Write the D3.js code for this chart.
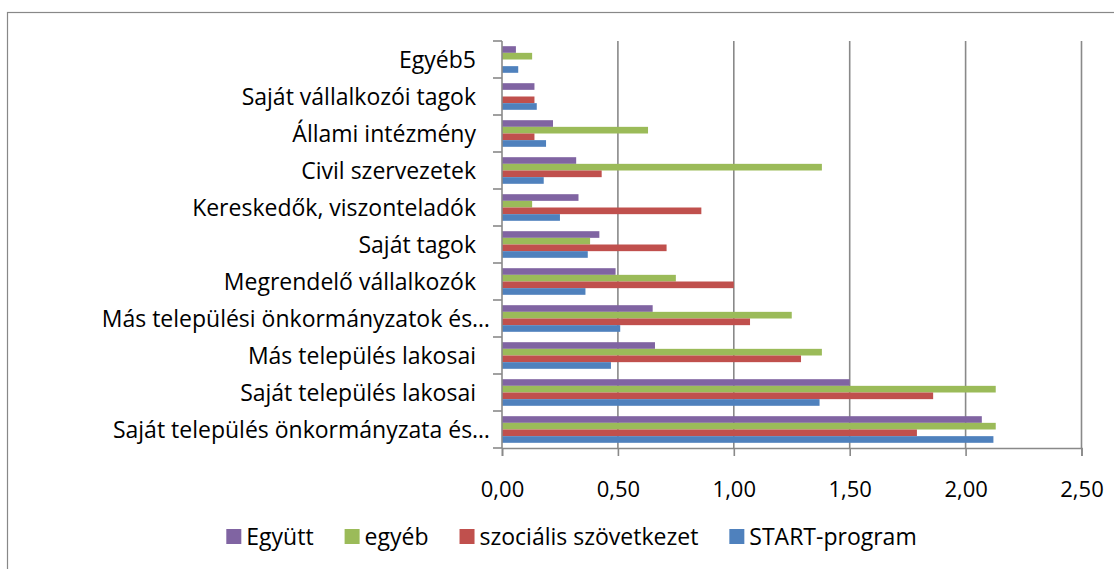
<!DOCTYPE html>
<html>
<head>
<meta charset="utf-8">
<script src="https://cdn.jsdelivr.net/npm/d3@7"></script>
<style>
  body { margin: 0; background: #fff; }
  svg { display: block; font-family: "Open Sans", Lato, sans-serif; }
</style>
</head>
<body>
<svg id="chart" width="1114" height="569"></svg>
<script>
// categories, top to bottom as shown
const categories = [
    "Egyéb5",
    "Saját vállalkozói tagok",
    "Állami intézmény",
    "Civil szervezetek",
    "Kereskedők, viszonteladók",
    "Saját tagok",
    "Megrendelő vállalkozók",
    "Más települési önkormányzatok és…",
    "Más település lakosai",
    "Saját település lakosai",
    "Saját település önkormányzata és…"
];

const seriesNames = ["Együtt", "egyéb", "szociális szövetkezet", "START-program"];
const seriesColors = ["#8064A2", "#9BBB59", "#C0504D", "#4F81BD"];

const egyutt = [0.06, 0.14, 0.22, 0.32, 0.33, 0.42, 0.49, 0.65, 0.66, 1.50, 2.07];
const egyeb = [0.13, 0, 0.63, 1.38, 0.13, 0.38, 0.75, 1.25, 1.38, 2.13, 2.13];
const szocialis = [0, 0.14, 0.14, 0.43, 0.86, 0.71, 1.00, 1.07, 1.29, 1.86, 1.79];
const startProgram = [0.07, 0.15, 0.19, 0.18, 0.25, 0.37, 0.36, 0.51, 0.47, 1.37, 2.12];

const xTicks = [0, 0.5, 1, 1.5, 2, 2.5];

const seriesValues = [egyutt, egyeb, szocialis, startProgram];

// layout
const plot = { left: 502, right: 1081.5, top: 41, bottom: 448 };
const gridColor = "#898989";
const labelSize = 23;

const svg = d3.select('#chart');

// outer chart border (runs off the right/bottom edge)
svg.append('rect')
    .attr('x', 7.5).attr('y', 12.5)
    .attr('width', 1200).attr('height', 700)
    .attr('fill', 'none')
    .attr('stroke', '#888')
    .attr('stroke-width', 1.2);

const x = d3.scaleLinear().domain([0, 2.5]).range([plot.left, plot.right]);
const y0 = d3.scaleBand().domain(categories).range([plot.top, plot.bottom]);
const y1 = d3.scaleBand().domain(seriesNames).range([0, y0.bandwidth()]).paddingOuter(0.78);

// vertical gridlines
svg.append('g')
    .selectAll('line')
    .data(xTicks.slice(1))
    .join('line')
    .attr('x1', d => x(d)).attr('x2', d => x(d))
    .attr('y1', plot.top).attr('y2', plot.bottom)
    .attr('stroke', gridColor)
    .attr('stroke-width', 1.6);

// bars
const rows = categories.map((c, i) => ({
    cat: c,
    vals: seriesNames.map((s, j) => ({ series: s, color: seriesColors[j], value: seriesValues[j][i] }))
}));

svg.append('g')
    .selectAll('g')
    .data(rows)
    .join('g')
    .attr('transform', d => `translate(0,${y0(d.cat)})`)
    .selectAll('rect')
    .data(d => d.vals.filter(v => v.value > 0))
    .join('rect')
    .attr('x', x(0))
    .attr('y', d => y1(d.series))
    .attr('width', d => x(d.value) - x(0))
    .attr('height', y1.bandwidth())
    .attr('fill', d => d.color);

// x axis
const xAxis = svg.append('g')
    .attr('transform', `translate(0,${plot.bottom})`)
    .call(d3.axisBottom(x)
        .tickValues(xTicks)
        .tickSize(8)
        .tickPadding(25)
        .tickFormat(d => d3.format('.2f')(d).replace('.', ',')));
xAxis.select('.domain').attr('stroke', gridColor).attr('stroke-width', 1.6);
xAxis.selectAll('.tick line').attr('stroke', gridColor).attr('stroke-width', 1.6);
xAxis.selectAll('.tick text')
    .attr('font-size', 22)
    .attr('font-family', '"Open Sans", sans-serif')
    .attr('fill', '#000');

// y axis line with ticks at category boundaries
svg.append('line')
    .attr('x1', plot.left).attr('x2', plot.left)
    .attr('y1', plot.top).attr('y2', plot.bottom)
    .attr('stroke', gridColor).attr('stroke-width', 1.6);

const boundaries = categories.map(c => y0(c)).concat([plot.bottom]);
svg.append('g')
    .selectAll('line')
    .data(boundaries)
    .join('line')
    .attr('x1', plot.left - 9).attr('x2', plot.left)
    .attr('y1', d => d).attr('y2', d => d)
    .attr('stroke', gridColor).attr('stroke-width', 1.6);

// category labels
svg.append('g')
    .selectAll('text')
    .data(categories)
    .join('text')
    .attr('x', d => d.endsWith('…') ? 490 : 476)
    .attr('y', d => y0(d) + y0.bandwidth() / 2)
    .attr('dy', '0.35em')
    .attr('text-anchor', 'end')
    .attr('font-size', labelSize)
    .attr('fill', '#000')
    .text(d => d);

// legend, centred under the chart
const legend = svg.append('g').attr('transform', 'translate(0,537)');
let lx = 0;
const items = [];
seriesNames.forEach((s, j) => {
    const g = legend.append('g');
    g.append('rect')
        .attr('x', 0).attr('y', -8)
        .attr('width', 15).attr('height', 15)
        .attr('fill', seriesColors[j]);
    const t = g.append('text')
        .attr('x', 20)
        .attr('y', 0)
        .attr('dy', '0.35em')
        .attr('font-size', labelSize)
        .attr('fill', '#000')
        .text(s);
    items.push({ g, x: lx });
    lx += 20 + t.node().getComputedTextLength() + 31;
});
const legendWidth = lx - 31;
const legendStart = 571.5 - legendWidth / 2;
items.forEach(it => it.g.attr('transform', `translate(${legendStart + it.x},0)`));
</script>
</body>
</html>
